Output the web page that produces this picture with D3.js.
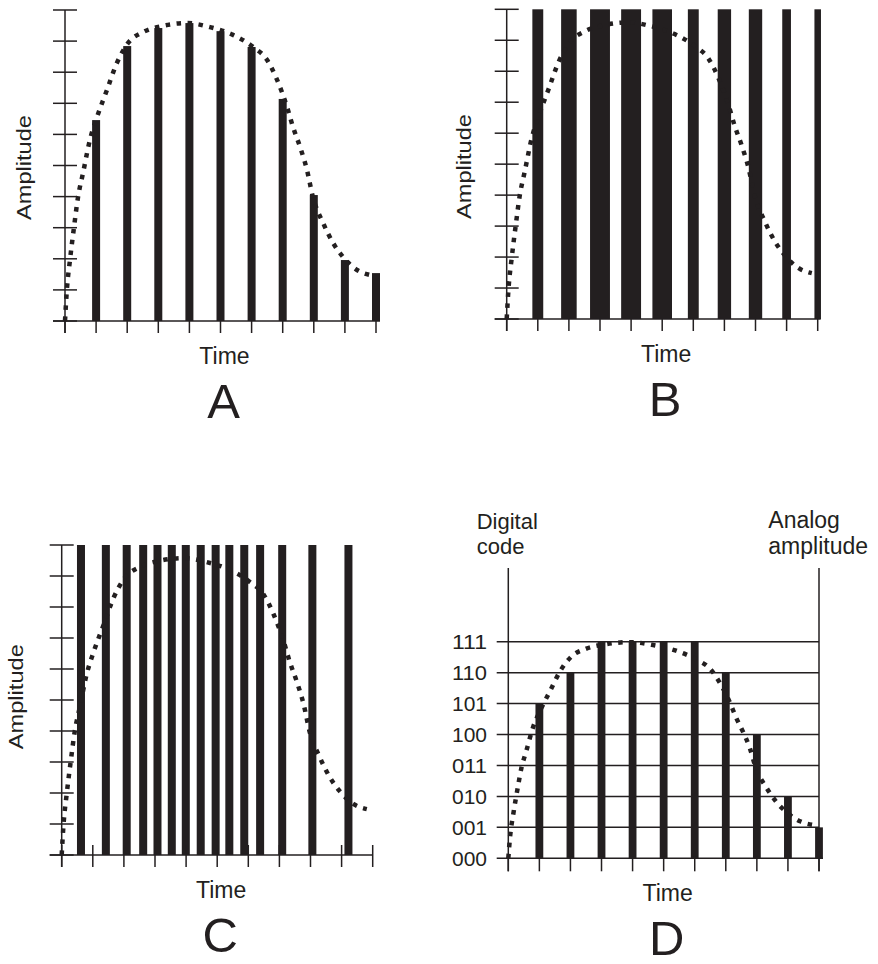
<!DOCTYPE html>
<html><head><meta charset="utf-8">
<script src="https://cdn.jsdelivr.net/npm/d3@7"></script>
<style>
body{margin:0;background:#fff}
svg{display:block;background:#fff}
text{font-family:"Liberation Sans",Arial,Helvetica,sans-serif;fill:#231f20}
</style>
</head><body>
<svg id="chart" width="878" height="964"></svg>
<script>
// ---------------- DATA ----------------
const panelLetters = ["A", "B", "C", "D"];
const timeTicks = [0, 1, 2, 3, 4, 5, 6, 7, 8, 9, 10];
const amplitudeTicks = [0, 1, 2, 3, 4, 5, 6, 7, 8, 9, 10];
const sampleTimes = [1, 2, 3, 4, 5, 6, 7, 8, 9, 10];
// A: pulse amplitude
const pamValues = [6.46, 8.84, 9.42, 9.58, 9.32, 8.81, 7.14, 4.05, 1.96, 1.54];
// B: pulse width (time units)
const pwmWidths = [0.35, 0.50, 0.64, 0.64, 0.63, 0.35, 0.43, 0.43, 0.28, 0.21];
// C: pulse positions (time units)
const pfmTimes = [0.62, 1.42, 2.09, 2.62, 3.08, 3.54, 3.99, 4.47, 4.95, 5.39, 5.87, 6.38, 7.09, 8.06, 9.22];
// D: digital codes
const pcmCodes = [5, 6, 7, 7, 7, 7, 6, 4, 2, 1];
const codeLabels = ["000", "001", "010", "011", "100", "101", "110", "111"];
// analog signal (dotted curve)
const analogTime = [0, 0.06, 0.16, 0.29, 0.42, 0.58, 0.80, 1.03, 1.35, 1.67, 2.03, 2.51, 3.15, 3.92, 4.66, 5.40, 6.05, 6.50, 6.82, 7.14, 7.33, 7.56, 7.78, 7.97, 8.30, 8.62, 8.94, 9.39, 9.81];
const analogAmp  = [0, 1.0, 1.96, 3.02, 3.99, 4.76, 5.82, 6.56, 7.43, 8.30, 8.94, 9.29, 9.49, 9.58, 9.45, 9.20, 8.81, 8.39, 7.75, 6.88, 6.24, 5.59, 4.86, 3.99, 3.15, 2.51, 2.06, 1.64, 1.48];
const analog = analogTime.map((t, i) => [t, analogAmp[i]]);

// ---------------- DRAW ----------------
const ink = "#231f20";
const svg = d3.select("#chart");

function curve(g, x, y) {
  g.append("path")
    .datum(analog)
    .attr("fill", "none")
    .attr("stroke", ink)
    .attr("stroke-width", 4.5)
    .attr("stroke-dasharray", "4.5,6.5")
    .attr("d", d3.line().x(d => x(d[0])).y(d => y(d[1])).curve(d3.curveMonotoneX));
}

function line(g, x1, y1, x2, y2, w) {
  g.append("line").attr("x1", x1).attr("y1", y1).attr("x2", x2).attr("y2", y2)
    .attr("stroke", ink).attr("stroke-width", w || 1.5);
}

function analogFrame(L, letter, ampPos, crossTicks) {
  const g = svg.append("g");
  const x = d3.scaleLinear().domain([0, 10]).range([L.x0, L.x1]);
  const y = d3.scaleLinear().domain([0, 10]).range([L.yb, L.yt]);
  const bars = g.append("g");
  // y axis
  line(g, x(0), y(10), x(0), L.yb + 12);
  amplitudeTicks.forEach(v => line(g, x(0) - 12, y(v), x(0) + 12, y(v)));
  // baseline
  line(g, x(0) - 12, y(0), L.xEnd, y(0));
  // time ticks
  timeTicks.forEach(t => line(g, x(t), crossTicks ? L.yb - 10 : L.yb, x(t), L.yb + 12));
  // labels
  const cx = (L.x0 + L.x1) / 2;
  g.append("text").attr("x", cx + 4).attr("y", L.yb + 43).attr("text-anchor", "middle")
    .attr("font-size", 23).text("Time");
  g.append("text").attr("x", cx + 3).attr("y", L.yb + 97).attr("text-anchor", "middle")
    .attr("font-size", 49).text(letter);
  g.append("text")
    .attr("transform", `translate(${ampPos[0]},${ampPos[1]}) rotate(-90)`)
    .attr("text-anchor", "middle").attr("font-size", 21)
    .attr("textLength", 105).attr("lengthAdjust", "spacingAndGlyphs")
    .text("Amplitude");
  return {g, bars, x, y};
}

// Panel A
{
  const L = {x0: 65, x1: 376, yb: 321, yt: 10, xEnd: 380};
  const p = analogFrame(L, panelLetters[0], [31, 167.5], false);
  p.bars.selectAll("rect").data(sampleTimes).join("rect")
    .attr("x", t => p.x(t) - 4).attr("width", 8)
    .attr("y", (t, i) => p.y(pamValues[i]))
    .attr("height", (t, i) => p.y(0) - p.y(pamValues[i]))
    .attr("fill", ink);
  curve(p.g, p.x, p.y);
}
// Panel B
{
  const L = {x0: 506.7, x1: 817.7, yb: 319, yt: 9.3, xEnd: 820.7};
  const p = analogFrame(L, panelLetters[1], [471, 166.5], false);
  p.bars.selectAll("rect").data(sampleTimes).join("rect")
    .attr("x", (t, i) => p.x(t - pwmWidths[i] / 2))
    .attr("width", (t, i) => p.x(pwmWidths[i]) - p.x(0))
    .attr("y", p.y(10)).attr("height", p.y(0) - p.y(10))
    .attr("fill", ink);
  curve(p.g, p.x, p.y);
}
// Panel C
{
  const L = {x0: 61.7, x1: 372.7, yb: 855, yt: 545, xEnd: 372.7};
  const p = analogFrame(L, panelLetters[2], [23, 696.7], true);
  p.bars.selectAll("rect").data(pfmTimes).join("rect")
    .attr("x", t => p.x(t) - 4).attr("width", 8)
    .attr("y", p.y(10)).attr("height", p.y(0) - p.y(10))
    .attr("fill", ink);
  curve(p.g, p.x, p.y);
}
// Panel D
{
  const L = {x0: 508.3, x1: 819, yb: 858.3, yt: 641.7, top: 568};
  const g = svg.append("g");
  const x = d3.scaleLinear().domain([0, 10]).range([L.x0, L.x1]);
  const yc = d3.scaleLinear().domain([0, 7]).range([L.yb, L.yt]);
  const ya = d3.scaleLinear().domain([0, 9.6]).range([L.yb, L.yt]);
  // grid lines
  codeLabels.forEach((lab, i) => line(g, L.x0 - 11.6, yc(i), i === 0 ? L.x1 + 4 : L.x1, yc(i), 1.5));
  // vertical axes
  line(g, x(0), L.top, x(0), L.yb + 13);
  line(g, x(10), L.top, x(10), L.yb + 13);
  timeTicks.forEach(t => line(g, x(t), L.yb, x(t), L.yb + 13));
  // bars
  g.append("g").selectAll("rect").data(sampleTimes).join("rect")
    .attr("x", t => x(t) - 3.9).attr("width", 7.8)
    .attr("y", (t, i) => yc(pcmCodes[i]))
    .attr("height", (t, i) => yc(0) - yc(pcmCodes[i]))
    .attr("fill", ink);
  curve(g, x, ya);
  // code labels
  g.append("g").selectAll("text").data(codeLabels).join("text")
    .attr("x", 487).attr("y", (d, i) => yc(i) + 7.5)
    .attr("text-anchor", "end").attr("font-size", 21)
    .attr("textLength", 35).attr("lengthAdjust", "spacingAndGlyphs").text(d => d);
  g.append("text").attr("x", 476.7).attr("y", 529).attr("font-size", 22).text("Digital");
  g.append("text").attr("x", 476.7).attr("y", 554).attr("font-size", 22).text("code");
  g.append("text").attr("x", 768.3).attr("y", 528.3).attr("font-size", 23).text("Analog");
  g.append("text").attr("x", 768.3).attr("y", 554.3).attr("font-size", 23).text("amplitude");
  const cx = (L.x0 + L.x1) / 2;
  g.append("text").attr("x", cx + 4).attr("y", L.yb + 43).attr("text-anchor", "middle")
    .attr("font-size", 23).text("Time");
  g.append("text").attr("x", cx + 3).attr("y", L.yb + 97).attr("text-anchor", "middle")
    .attr("font-size", 49).text(panelLetters[3]);
}
</script>
</body></html>
